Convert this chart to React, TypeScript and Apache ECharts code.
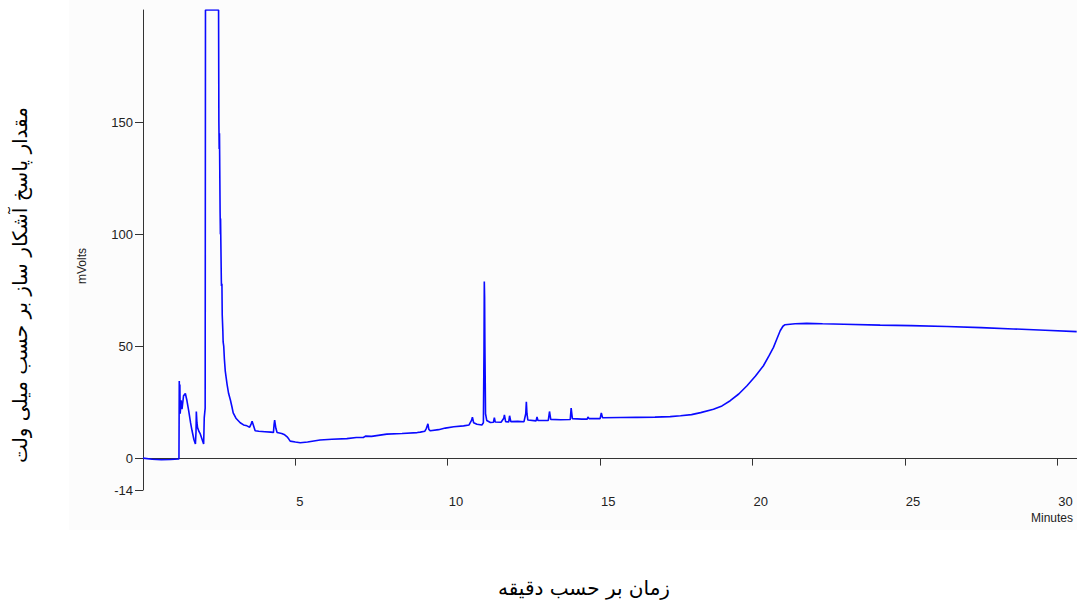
import React, { useEffect, useRef } from "react";
import * as echarts from "echarts";

// Chromatogram: time (minutes) and detector signal (mV)
const timeMin = [
  0, 0.3, 0.6, 0.9, 1.18,
  1.19, 1.2, 1.21, 1.22, 1.25, 1.28, 1.33, 1.39, 1.44, 1.5, 1.56, 1.61, 1.67, 1.72,
  1.74, 1.75, 1.77, 1.79, 1.84, 1.88, 1.94, 1.99, 2.0, 2.01, 2.04,
  2.05, 2.48, 2.49, 2.5, 2.51, 2.53, 2.54, 2.545, 2.57, 2.575, 2.59, 2.6, 2.62, 2.63,
  2.65, 2.67, 2.7, 2.73, 2.76, 2.81, 2.87, 2.92, 2.96, 3.05, 3.19, 3.3, 3.41, 3.5,
  3.55, 3.58, 3.62, 3.68, 3.8, 4.0, 4.2, 4.28, 4.3, 4.32, 4.36, 4.4, 4.55, 4.65,
  4.72, 4.78, 4.83, 5.0, 5.16, 5.4, 5.81, 6.2, 6.69, 7.0, 7.23, 7.3, 7.5, 8.0, 8.5,
  9.0, 9.1, 9.25, 9.3, 9.35, 9.38, 9.43, 9.7, 9.92, 10.2, 10.52, 10.7, 10.78, 10.81,
  10.85, 10.96, 11.12, 11.17, 11.19, 11.2, 11.21, 11.22, 11.24, 11.28, 11.4, 11.5,
  11.53, 11.56, 11.75, 11.84, 11.86, 11.9, 12.0, 12.03, 12.07, 12.3, 12.5, 12.56,
  12.58, 12.6, 12.63, 12.9, 12.93, 12.96, 13.3, 13.34, 13.38, 13.7, 14.02, 14.05,
  14.09, 14.4, 14.58, 14.6, 14.64, 15.0, 15.04, 15.08, 15.67, 16.2, 16.8, 17.3,
  17.64, 18.0, 18.3, 18.72, 19.0, 19.27, 19.55, 19.82, 20.1, 20.36, 20.55, 20.69,
  20.8, 20.91, 21.0, 21.07, 21.4, 21.78, 22.3, 23.0, 24.19, 25.2, 26.38, 27.5,
  28.56, 29.6, 30.64,
];
const signalMv = [
  0.2, -0.3, -0.5, -0.4, -0.2,
  34.6, 22, 33, 20, 26, 22, 28, 29, 26, 21.3, 16, 12.4, 8.5, 6.5,
  12, 21, 16, 13.8, 12, 11, 8.5, 6.5, 12, 18.3, 22.5,
  200, 200, 150, 138, 145, 110, 100, 107, 80, 77, 78, 64, 57, 52,
  50, 44.5, 39, 36, 33, 29, 26, 23, 20.4, 18, 16, 15, 14.6, 14,
  15.5, 16.7, 15, 12.4, 12.2, 12, 11.8, 11.6, 15, 17.2, 13.5, 11.6, 11.2, 10.6,
  9.8, 8.8, 7.8, 7.4, 7.1, 7.4, 8.3, 8.6, 8.9, 9.4, 9.4, 10, 9.9, 10.9, 11.2,
  11.6, 11.8, 12.2, 13.5, 15.5, 13, 12.4, 12.9, 13.6, 14.2, 14.6, 15, 17, 18.5,
  16, 15.3, 15, 16, 48, 79, 72, 50, 20, 17, 16.1, 16.2,
  18.3, 16.3, 16.2, 18, 19.5, 16.5, 16.3, 19.1, 16.5, 16.6, 16.4, 20,
  25.3, 20, 17.2, 16.8, 18.6, 17, 17, 21, 17.5, 17.3, 17.4, 22.5,
  17.8, 17.6, 17.6, 18.6, 17.8, 17.8, 20.4, 18.2, 18.3, 18.4, 18.5, 18.7,
  19.1, 19.6, 20.5, 22, 23.5, 25.8, 28.8, 32.5, 36.8, 41.4, 46, 49.6,
  53.3, 57, 59, 59.7, 60.1, 60.3, 60.1, 59.9, 59.5, 59.3, 58.9, 58.4,
  57.8, 57.2, 56.6,
];
const xTickValues = [0, 5, 10, 15, 20, 25, 30];
const xLabelValues = [5, 10, 15, 20, 25, 30];
const yTickValues = [-14, 0, 50, 100, 150];

const yTitle = "مقدار پاسخ آشکار ساز بر حسب میلی ولت";
const xTitle = "زمان بر حسب دقیقه";
const yUnit = "mVolts";
const xUnit = "Minutes";

export default function App() {
  const ref = useRef<HTMLDivElement>(null);
  useEffect(() => {
    if (!ref.current) return;
    const chart = echarts.init(ref.current, null, { renderer: "svg" });
    const data = timeMin.map((t, i) => [t, signalMv[i]]);
    const axisColor = "#333333";
    const labelFont = "Liberation Sans, Arial, sans-serif";
    chart.setOption({
      animation: false,
      backgroundColor: "#ffffff",
      grid: { left: 143, right: 0, top: 10, bottom: 114 },
      xAxis: {
        type: "value",
        min: 0,
        max: 30.65,
        axisLine: { show: true, lineStyle: { color: axisColor, width: 1 } },
        axisTick: {
          show: true,
          length: 7,
          customValues: xTickValues,
          lineStyle: { color: axisColor },
        },
        axisLabel: {
          customValues: xLabelValues,
          align: "left",
          margin: 5,
          padding: [0, 0, 0, 1],
          fontSize: 13,
          color: "#222222",
          fontFamily: labelFont,
        },
        splitLine: { show: false },
      },
      yAxis: {
        type: "value",
        min: -14,
        max: 200,
        axisLine: { show: true, lineStyle: { color: axisColor, width: 1 } },
        axisTick: {
          show: true,
          length: 8,
          customValues: yTickValues,
          lineStyle: { color: axisColor },
        },
        axisLabel: {
          customValues: yTickValues,
          margin: 10,
          fontSize: 13,
          color: "#222222",
          fontFamily: labelFont,
        },
        splitLine: { show: false },
      },
      series: [
        {
          type: "line",
          data,
          showSymbol: false,
          clip: true,
          lineStyle: { color: "#0a0aff", width: 1.6 },
          z: 3,
        },
      ],
      graphic: [
        {
          type: "rect",
          z: -10,
          shape: { x: 69, y: 0, width: 1008, height: 530 },
          style: { fill: "#fcfcfc" },
          silent: true,
        },
        {
          type: "text",
          x: 82,
          y: 266,
          rotation: Math.PI / 2,
          style: {
            text: yUnit,
            fontSize: 12,
            fontFamily: labelFont,
            fill: "#222222",
            textAlign: "center",
            textVerticalAlign: "middle",
          },
        },
        {
          type: "text",
          x: 1031,
          y: 518,
          style: {
            text: xUnit,
            fontSize: 12,
            fontFamily: labelFont,
            fill: "#222222",
            textAlign: "left",
            textVerticalAlign: "middle",
          },
        },
        {
          type: "text",
          x: 20,
          y: 285,
          rotation: Math.PI / 2,
          style: {
            text: yTitle,
            fontSize: 20,
            fontFamily: "DejaVu Sans, Noto Sans, sans-serif",
            fill: "#000000",
            textAlign: "center",
            textVerticalAlign: "middle",
          },
        },
        {
          type: "text",
          x: 584,
          y: 588,
          style: {
            text: xTitle,
            fontSize: 20,
            fontFamily: "DejaVu Sans, Noto Sans, sans-serif",
            fill: "#000000",
            textAlign: "center",
            textVerticalAlign: "middle",
          },
        },
      ],
    });
    return () => chart.dispose();
  }, []);
  return (
    <div
      ref={ref}
      style={{ position: "absolute", left: 0, top: 0, width: 1077, height: 604 }}
    />
  );
}
